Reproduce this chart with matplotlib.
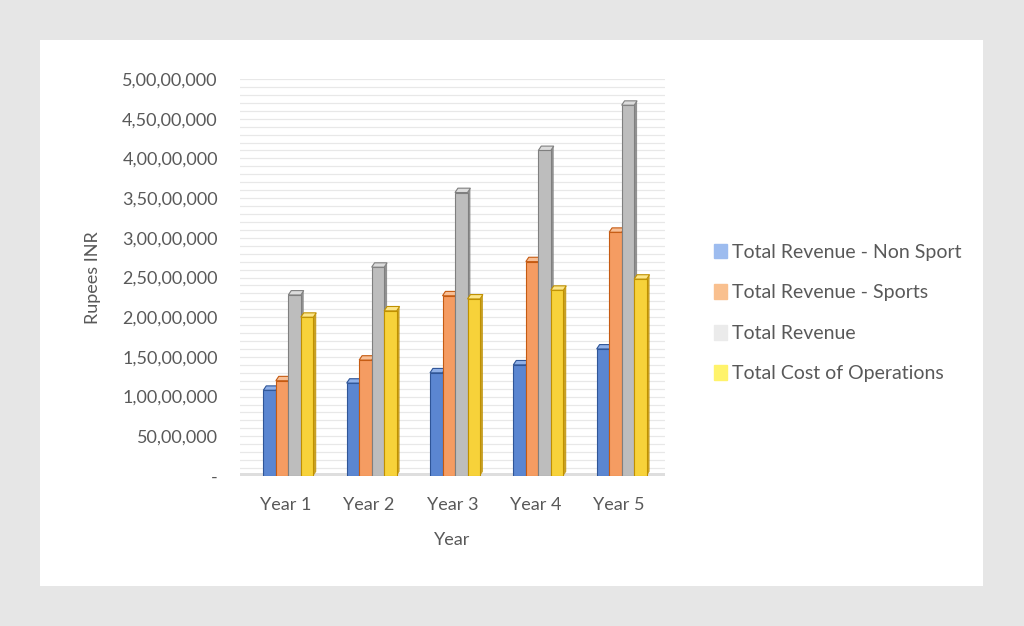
#!/usr/bin/env python3

"""
plot.py - revenue vs cost of operations, 5 year projection
"""

import numpy as np
import matplotlib.pyplot as plt
from matplotlib.patches import Rectangle, Patch
from matplotlib.ticker import FuncFormatter, MultipleLocator

years = ["Year 1", "Year 2", "Year 3", "Year 4", "Year 5"]
seriesNames = ["Total Revenue - Non Sport", "Total Revenue - Sports",
               "Total Revenue", "Total Cost of Operations"]

nonSport = [1.08e7, 1.17e7, 1.30e7, 1.40e7, 1.60e7]
sports = [1.20e7, 1.46e7, 2.27e7, 2.70e7, 3.07e7]
totalRevenue = [2.28e7, 2.63e7, 3.57e7, 4.10e7, 4.67e7]
costOps = [2.00e7, 2.08e7, 2.23e7, 2.34e7, 2.48e7]

# front, side, top, legend swatch
colours = [
    ("#5b86d1", "#2f5597", "#8fb0e8", "#9dbcef"),
    ("#f59c62", "#c55a11", "#f8bf96", "#f9c08f"),
    ("#bdbdbd", "#7f7f7f", "#dcdcdc", "#ebebeb"),
    ("#f7d23a", "#bf9000", "#fde68a", "#fff36b"),
]

textCol = "#595959"


def indianFormat(v, pos=None):
    v = int(round(v))
    if v == 0:
        return "-"
    s = str(v)
    last3 = s[-3:]
    rest = s[:-3]
    groups = []
    while len(rest) > 2:
        groups.insert(0, rest[-2:])
        rest = rest[:-2]
    if rest:
        groups.insert(0, rest)
    return ",".join(groups + [last3])


def drawBar3d(ax, x, h, w, cols, z):
    front, side, top = cols[0], cols[1], cols[2]
    dx = 0.035
    dy = 5.5e5
    ax.add_patch(Rectangle((x - w / 2, 0), w, h, facecolor=front,
                           edgecolor=side, linewidth=0.8, zorder=z))
    ax.fill([x + w / 2, x + w / 2 + dx, x + w / 2 + dx, x + w / 2],
            [0, dy, h + dy, h], color=side, alpha=0.85, zorder=z - 0.1,
            linewidth=0)
    ax.fill([x - w / 2, x + w / 2, x + w / 2 + dx, x - w / 2 + dx],
            [h, h, h + dy, h + dy], facecolor=top, edgecolor=side,
            linewidth=0.8, zorder=z + 0.1)


def plotChart():
    plt.rcParams['font.family'] = ['Lato', 'DejaVu Sans']
    fig = plt.figure(figsize=(10.24, 6.26), dpi=100)
    fig.patch.set_facecolor("#e6e6e6")
    card = Rectangle((40 / 1024, 40 / 626), 943 / 1024, 546 / 626,
                     transform=fig.transFigure, facecolor="white",
                     edgecolor="none", zorder=-5)
    fig.add_artist(card)

    ax = fig.add_axes([240 / 1024, 150 / 626, 425 / 1024, 397 / 626])
    ax.set_facecolor("none")
    ax.set_zorder(1)

    data = [nonSport, sports, totalRevenue, costOps]
    xs = np.arange(len(years))
    w = 0.15
    for i, vals in enumerate(data):
        for j, v in enumerate(vals):
            drawBar3d(ax, xs[j] + (i - 1.5) * w + 0.03, v, w, colours[i], 3 + i)

    ax.set_xlim(-0.55, 4.55)
    ax.set_ylim(0, 5e7)
    ax.yaxis.set_major_locator(MultipleLocator(5e6))
    ax.yaxis.set_minor_locator(MultipleLocator(1e6))
    ax.yaxis.set_major_formatter(FuncFormatter(indianFormat))
    ax.grid(axis="y", which="both", color="#e8e8e8", linewidth=0.9, zorder=0)
    ax.set_axisbelow(True)
    ax.axhline(0, color="#dedede", linewidth=5, zorder=2)

    ax.set_xticks(xs)
    ax.set_xticklabels(years)
    ax.tick_params(axis="both", which="both", length=0, colors=textCol,
                   labelsize=13)
    ax.tick_params(axis="x", pad=15)
    ax.tick_params(axis="y", pad=16)
    for sp in ax.spines.values():
        sp.set_visible(False)

    ax.set_xlabel("Year", color=textCol, fontsize=13, labelpad=14)
    ax.set_ylabel("Rupees INR", color=textCol, fontsize=13, labelpad=15)

    handles = [Patch(facecolor=c[3], edgecolor=c[3]) for c in colours]
    fig.legend(handles, seriesNames, loc="center left",
               bbox_to_anchor=(0.68, 0.5), frameon=False, fontsize=14,
               labelcolor=textCol, handlelength=0.7, handleheight=0.8,
               handletextpad=0.25, labelspacing=1.2)

    fig.savefig("out.png", dpi=100, facecolor=fig.get_facecolor())


def main():
    plotChart()


if __name__ == "__main__":
    main()
